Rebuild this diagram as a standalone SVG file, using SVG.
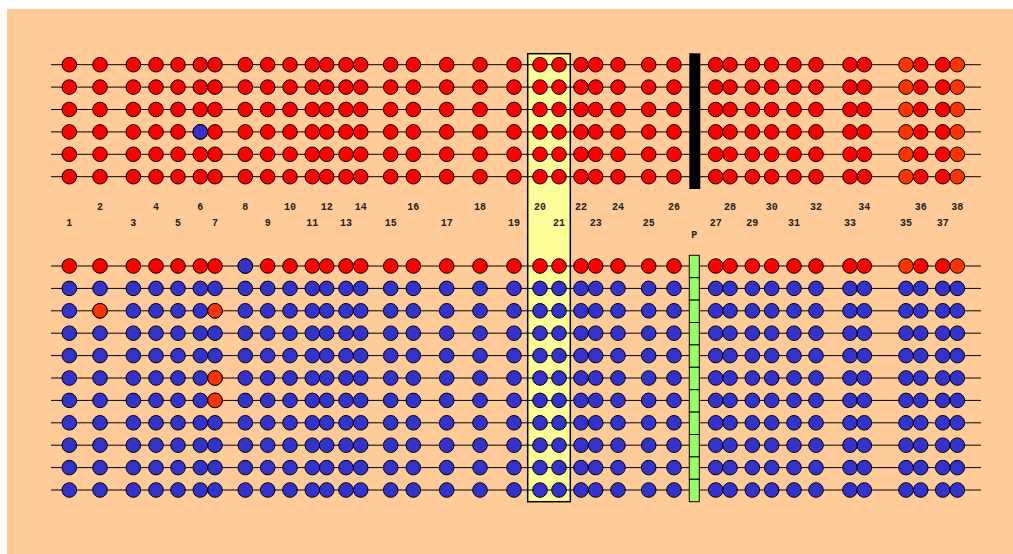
<svg xmlns="http://www.w3.org/2000/svg" xmlns:xlink="http://www.w3.org/1999/xlink" width="1013" height="554" viewBox="0 0 1013 554">
<style>
.r{fill:#FF0000;stroke:#000;stroke-width:1}
.b{fill:#3333CC;stroke:#000;stroke-width:1}
.o{fill:#FF3300;stroke:#000;stroke-width:1}
.ln{stroke:#000;stroke-width:1}
.lb{font-family:"Liberation Mono",monospace;font-weight:bold;font-size:10px;fill:#222;text-anchor:middle}
.cell{fill:#99FF66;stroke:#000;stroke-width:1}
</style>
<defs>
<g id="colT">
<circle class="r" cx="0" cy="64.7" r="7.3"/>
<circle class="r" cx="0" cy="87.1" r="7.3"/>
<circle class="r" cx="0" cy="109.5" r="7.3"/>
<circle class="r" cx="0" cy="131.9" r="7.3"/>
<circle class="r" cx="0" cy="154.3" r="7.3"/>
<circle class="r" cx="0" cy="176.7" r="7.3"/>
<circle class="r" cx="0" cy="266" r="7.3"/>
<circle class="b" cx="0" cy="288.4" r="7.3"/>
<circle class="b" cx="0" cy="310.8" r="7.3"/>
<circle class="b" cx="0" cy="333.2" r="7.3"/>
<circle class="b" cx="0" cy="355.6" r="7.3"/>
<circle class="b" cx="0" cy="378" r="7.3"/>
<circle class="b" cx="0" cy="400.4" r="7.3"/>
<circle class="b" cx="0" cy="422.8" r="7.3"/>
<circle class="b" cx="0" cy="445.2" r="7.3"/>
<circle class="b" cx="0" cy="467.6" r="7.3"/>
<circle class="b" cx="0" cy="490" r="7.3"/>
</g>
<g id="colO">
<circle class="o" cx="0" cy="64.7" r="7.3"/>
<circle class="o" cx="0" cy="87.1" r="7.3"/>
<circle class="o" cx="0" cy="109.5" r="7.3"/>
<circle class="o" cx="0" cy="131.9" r="7.3"/>
<circle class="o" cx="0" cy="154.3" r="7.3"/>
<circle class="o" cx="0" cy="176.7" r="7.3"/>
<circle class="o" cx="0" cy="266" r="7.3"/>
<circle class="b" cx="0" cy="288.4" r="7.3"/>
<circle class="b" cx="0" cy="310.8" r="7.3"/>
<circle class="b" cx="0" cy="333.2" r="7.3"/>
<circle class="b" cx="0" cy="355.6" r="7.3"/>
<circle class="b" cx="0" cy="378" r="7.3"/>
<circle class="b" cx="0" cy="400.4" r="7.3"/>
<circle class="b" cx="0" cy="422.8" r="7.3"/>
<circle class="b" cx="0" cy="445.2" r="7.3"/>
<circle class="b" cx="0" cy="467.6" r="7.3"/>
<circle class="b" cx="0" cy="490" r="7.3"/>
</g>
</defs>
<rect x="7" y="9" width="1006" height="545" fill="#FFCC99"/>
<rect id="band" x="527.7" y="53.7" width="42.6" height="448" fill="#FFFF99" stroke="#000" stroke-width="1.5"/>
<g id="connectors">
<line class="ln" x1="51" y1="64.7" x2="981" y2="64.7"/>
<line class="ln" x1="51" y1="87.1" x2="981" y2="87.1"/>
<line class="ln" x1="51" y1="109.5" x2="981" y2="109.5"/>
<line class="ln" x1="51" y1="131.9" x2="981" y2="131.9"/>
<line class="ln" x1="51" y1="154.3" x2="981" y2="154.3"/>
<line class="ln" x1="51" y1="176.7" x2="981" y2="176.7"/>
<line class="ln" x1="51" y1="266" x2="981" y2="266"/>
<line class="ln" x1="51" y1="288.4" x2="981" y2="288.4"/>
<line class="ln" x1="51" y1="310.8" x2="981" y2="310.8"/>
<line class="ln" x1="51" y1="333.2" x2="981" y2="333.2"/>
<line class="ln" x1="51" y1="355.6" x2="981" y2="355.6"/>
<line class="ln" x1="51" y1="378" x2="981" y2="378"/>
<line class="ln" x1="51" y1="400.4" x2="981" y2="400.4"/>
<line class="ln" x1="51" y1="422.8" x2="981" y2="422.8"/>
<line class="ln" x1="51" y1="445.2" x2="981" y2="445.2"/>
<line class="ln" x1="51" y1="467.6" x2="981" y2="467.6"/>
<line class="ln" x1="51" y1="490" x2="981" y2="490"/>
</g>
<g id="col1"><use href="#colT" x="69.3"/><text class="lb" x="69.3" y="225.5">1</text></g>
<g id="col2"><use href="#colT" x="100"/><circle class="o" cx="100" cy="310.8" r="7.3"/><text class="lb" x="100" y="209.5">2</text></g>
<g id="col3"><use href="#colT" x="133.3"/><text class="lb" x="133.3" y="225.5">3</text></g>
<g id="col4"><use href="#colT" x="156"/><text class="lb" x="156" y="209.5">4</text></g>
<g id="col5"><use href="#colT" x="178"/><text class="lb" x="178" y="225.5">5</text></g>
<g id="col6"><use href="#colT" x="200.3"/><circle class="b" cx="200.3" cy="131.9" r="7.3"/><text class="lb" x="200.3" y="209.5">6</text></g>
<g id="col7"><use href="#colT" x="215"/><circle class="o" cx="215" cy="310.8" r="7.3"/><circle class="o" cx="215" cy="378" r="7.3"/><circle class="o" cx="215" cy="400.4" r="7.3"/><text class="lb" x="215" y="225.5">7</text></g>
<g id="col8"><use href="#colT" x="245.3"/><circle class="b" cx="245.3" cy="266" r="7.3"/><text class="lb" x="245.3" y="209.5">8</text></g>
<g id="col9"><use href="#colT" x="267.7"/><text class="lb" x="267.7" y="225.5">9</text></g>
<g id="col10"><use href="#colT" x="290"/><text class="lb" x="290" y="209.5">10</text></g>
<g id="col11"><use href="#colT" x="312.3"/><text class="lb" x="312.3" y="225.5">11</text></g>
<g id="col12"><use href="#colT" x="326.7"/><text class="lb" x="326.7" y="209.5">12</text></g>
<g id="col13"><use href="#colT" x="346"/><text class="lb" x="346" y="225.5">13</text></g>
<g id="col14"><use href="#colT" x="360.7"/><text class="lb" x="360.7" y="209.5">14</text></g>
<g id="col15"><use href="#colT" x="390.7"/><text class="lb" x="390.7" y="225.5">15</text></g>
<g id="col16"><use href="#colT" x="413.3"/><text class="lb" x="413.3" y="209.5">16</text></g>
<g id="col17"><use href="#colT" x="446.7"/><text class="lb" x="446.7" y="225.5">17</text></g>
<g id="col18"><use href="#colT" x="480"/><text class="lb" x="480" y="209.5">18</text></g>
<g id="col19"><use href="#colT" x="514"/><text class="lb" x="514" y="225.5">19</text></g>
<g id="col20"><use href="#colT" x="540"/><text class="lb" x="540" y="209.5">20</text></g>
<g id="col21"><use href="#colT" x="559"/><text class="lb" x="559" y="225.5">21</text></g>
<g id="col22"><use href="#colT" x="581"/><text class="lb" x="581" y="209.5">22</text></g>
<g id="col23"><use href="#colT" x="595.7"/><text class="lb" x="595.7" y="225.5">23</text></g>
<g id="col24"><use href="#colT" x="618"/><text class="lb" x="618" y="209.5">24</text></g>
<g id="col25"><use href="#colT" x="648.7"/><text class="lb" x="648.7" y="225.5">25</text></g>
<g id="col26"><use href="#colT" x="674"/><text class="lb" x="674" y="209.5">26</text></g>
<g id="col27"><use href="#colT" x="715.7"/><text class="lb" x="715.7" y="225.5">27</text></g>
<g id="col28"><use href="#colT" x="730"/><text class="lb" x="730" y="209.5">28</text></g>
<g id="col29"><use href="#colT" x="752.3"/><text class="lb" x="752.3" y="225.5">29</text></g>
<g id="col30"><use href="#colT" x="771.7"/><text class="lb" x="771.7" y="209.5">30</text></g>
<g id="col31"><use href="#colT" x="794"/><text class="lb" x="794" y="225.5">31</text></g>
<g id="col32"><use href="#colT" x="816"/><text class="lb" x="816" y="209.5">32</text></g>
<g id="col33"><use href="#colT" x="850"/><text class="lb" x="850" y="225.5">33</text></g>
<g id="col34"><use href="#colT" x="864.3"/><text class="lb" x="864.3" y="209.5">34</text></g>
<g id="col35"><use href="#colO" x="906"/><text class="lb" x="906" y="225.5">35</text></g>
<g id="col36"><use href="#colT" x="920.7"/><text class="lb" x="920.7" y="209.5">36</text></g>
<g id="col37"><use href="#colT" x="942.7"/><text class="lb" x="942.7" y="225.5">37</text></g>
<g id="col38"><use href="#colO" x="957.3"/><text class="lb" x="957.3" y="209.5">38</text></g>
<g id="barrier"><rect x="689.3" y="53.3" width="11" height="135.7" fill="#000"/></g>
<g id="pbar">
<rect class="cell" x="689.3" y="255.3" width="10" height="22.4"/>
<rect class="cell" x="689.3" y="277.7" width="10" height="22.4"/>
<rect class="cell" x="689.3" y="300.1" width="10" height="22.4"/>
<rect class="cell" x="689.3" y="322.5" width="10" height="22.4"/>
<rect class="cell" x="689.3" y="344.9" width="10" height="22.4"/>
<rect class="cell" x="689.3" y="367.3" width="10" height="22.4"/>
<rect class="cell" x="689.3" y="389.7" width="10" height="22.4"/>
<rect class="cell" x="689.3" y="412.1" width="10" height="22.4"/>
<rect class="cell" x="689.3" y="434.5" width="10" height="22.4"/>
<rect class="cell" x="689.3" y="456.9" width="10" height="22.4"/>
<rect class="cell" x="689.3" y="479.3" width="10" height="22.4"/>
<text class="lb" x="694.3" y="237.5">P</text>
</g>
</svg>
